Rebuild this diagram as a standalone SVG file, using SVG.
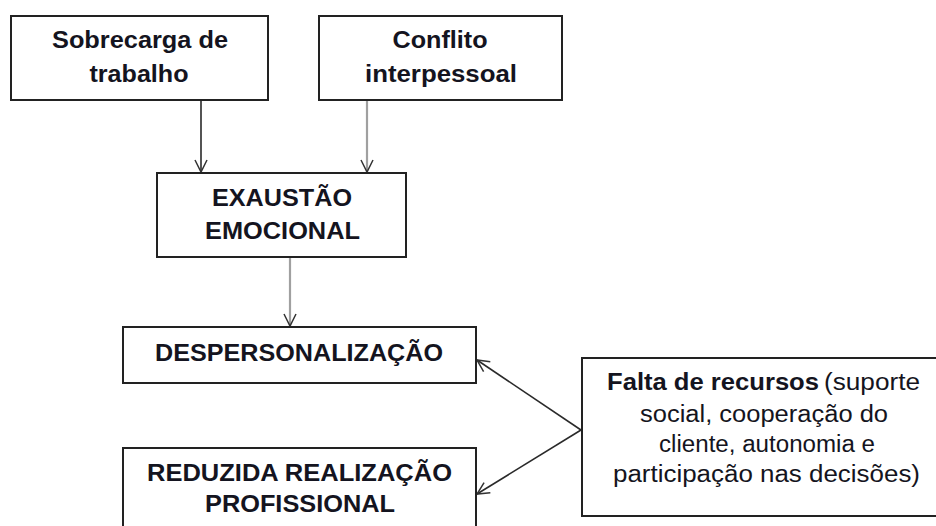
<svg xmlns="http://www.w3.org/2000/svg" width="936" height="526" viewBox="0 0 936 526">
<style>
.box{fill:#fff;stroke:#222;stroke-width:2}
.t{font-family:"Liberation Sans",Arial,sans-serif;font-size:23px;fill:#141420;text-anchor:middle}
.b{font-weight:bold}
.dk{stroke:#2a2a2a;stroke-width:1.6;fill:none}
.gr{stroke:#a0a0a0;stroke-width:2.2;fill:none}
</style>
<defs>
<marker id="ah" markerUnits="userSpaceOnUse" markerWidth="16" markerHeight="16" refX="13" refY="7" orient="auto">
<path d="M1,1 L13,7 L1,13" fill="none" stroke="#333" stroke-width="1.5"/>
</marker>
</defs>
<rect width="936" height="526" fill="#fff"/>
<g id="connectors">
<line class="dk" x1="201" y1="100" x2="201" y2="172" marker-end="url(#ah)"/>
<line class="gr" x1="367" y1="100" x2="367" y2="172" marker-end="url(#ah)"/>
<line class="gr" x1="290" y1="257" x2="290" y2="326" marker-end="url(#ah)"/>
<line class="dk" x1="581" y1="430" x2="477" y2="360" marker-end="url(#ah)"/>
<line class="dk" x1="581" y1="430" x2="477" y2="494" marker-end="url(#ah)"/>
</g>
<g id="sobrecarga">
<rect class="box" x="11" y="16" width="257" height="84"/>
<text class="t b" x="140" y="48" textLength="176" lengthAdjust="spacingAndGlyphs">Sobrecarga de</text>
<text class="t b" x="139" y="82" textLength="99" lengthAdjust="spacingAndGlyphs">trabalho</text>
</g>
<g id="conflito">
<rect class="box" x="319" y="16" width="243" height="84"/>
<text class="t b" x="440" y="48" textLength="95" lengthAdjust="spacingAndGlyphs">Conflito</text>
<text class="t b" x="441" y="82" textLength="152" lengthAdjust="spacingAndGlyphs">interpessoal</text>
</g>
<g id="exaustao">
<rect class="box" x="157" y="173" width="249" height="84"/>
<text class="t b" x="282" y="205.5" textLength="140" lengthAdjust="spacingAndGlyphs">EXAUSTÃO</text>
<text class="t b" x="282.5" y="239" textLength="155" lengthAdjust="spacingAndGlyphs">EMOCIONAL</text>
</g>
<g id="despersonalizacao">
<rect class="box" x="123" y="327" width="353" height="56"/>
<text class="t b" x="299" y="361" textLength="288" lengthAdjust="spacingAndGlyphs">DESPERSONALIZAÇÃO</text>
</g>
<g id="reduzida">
<rect class="box" x="123" y="448" width="353" height="100"/>
<text class="t b" x="299.5" y="481" textLength="305" lengthAdjust="spacingAndGlyphs">REDUZIDA REALIZAÇÃO</text>
<text class="t b" x="300" y="512" textLength="190" lengthAdjust="spacingAndGlyphs">PROFISSIONAL</text>
</g>
<g id="falta">
<rect class="box" x="582" y="358" width="370" height="158"/>
<text class="t b" x="713" y="390" textLength="212" lengthAdjust="spacingAndGlyphs">Falta de recursos</text>
<text class="t" x="872" y="390" textLength="96" lengthAdjust="spacingAndGlyphs">(suporte</text>
<text class="t" x="764" y="421.5" textLength="248" lengthAdjust="spacingAndGlyphs">social, cooperação do</text>
<text class="t" x="767" y="451.5" textLength="216" lengthAdjust="spacingAndGlyphs">cliente, autonomia e</text>
<text class="t" x="766.5" y="481.5" textLength="307" lengthAdjust="spacingAndGlyphs">participação nas decisões)</text>
</g>
</svg>
